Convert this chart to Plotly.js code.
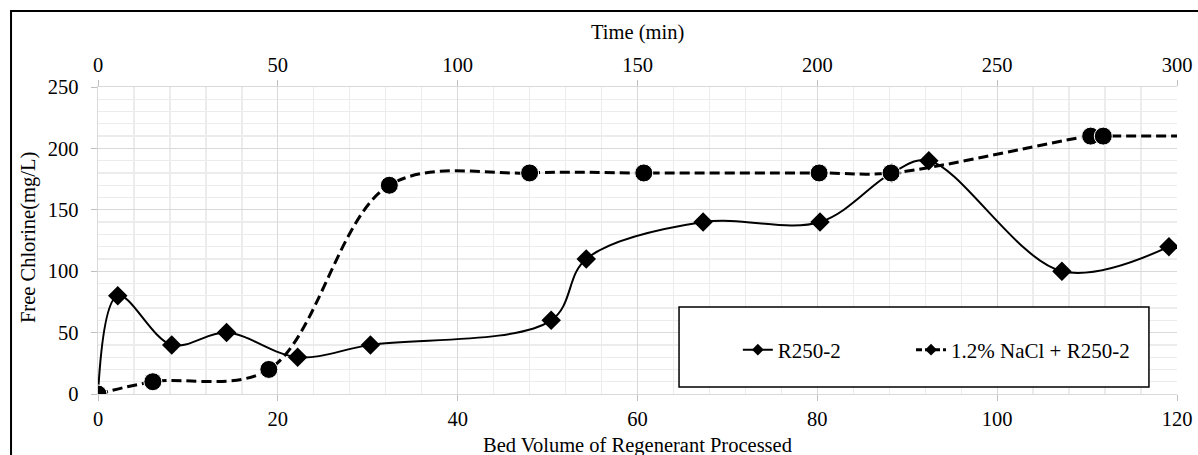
<!DOCTYPE html>
<html>
<head>
<meta charset="utf-8">
<script src="https://cdn.plot.ly/plotly-3.0.1.min.js"></script>
<style>
  html, body { margin: 0; padding: 0; background: #ffffff; }
  #chart { width: 1198px; height: 455px; }
</style>
</head>
<body>
<div id="chart"></div>
<script>
// Bed volume of regenerant processed (x) and free chlorine mg/L (y)
const r250BV = [0, 2.2, 8.2, 14.3, 22.2, 30.3, 50.4, 54.3, 67.3, 80.3, 88.3, 92.4, 107.2, 119.1];
const r250Cl = [0, 80, 40, 50, 30, 40, 60, 110, 140, 140, 180, 190, 100, 120];

const naclBV = [0, 6.1, 19.0, 32.4, 48.0, 60.7, 80.2, 88.2, 110.4, 111.8, 120];
const naclCl = [0, 10, 20, 170, 180, 180, 180, 180, 210, 210, 210];
const naclMarkerSize = [18, 18, 18, 18, 18, 18, 18, 18, 18, 18, 0];

const seriesNames = ['R250-2', '1.2% NaCl + R250-2'];
const timeRange = [0, 300];
const bvRange = [0, 120];
const clRange = [0, 250];

const FONT = 'Liberation Serif, Times New Roman, serif';
const GRID = '#d9d9d9';
const MINOR = '#ececec';

const traces = [
  {
    x: r250BV, y: r250Cl, type: 'scatter', mode: 'lines+markers',
    line: {color: '#000', width: 2, shape: 'spline', smoothing: 1},
    marker: {symbol: 'diamond', size: 15, color: '#000', opacity: 1},
    showlegend: false, name: seriesNames[0]
  },
  {
    x: naclBV, y: naclCl, type: 'scatter', mode: 'lines+markers',
    line: {color: '#000', width: 3, dash: '10px,5px', shape: 'spline', smoothing: 1},
    marker: {symbol: 'circle', size: naclMarkerSize, color: '#000', opacity: 1},
    showlegend: false, name: seriesNames[1]
  },
  {
    x: [null], y: [null], type: 'scatter', mode: 'lines+markers', name: seriesNames[0],
    legend: 'legend',
    line: {color: '#000', width: 2},
    marker: {symbol: 'diamond', size: 9, color: '#000', opacity: 1}
  },
  {
    x: [null], y: [null], type: 'scatter', mode: 'lines+markers', name: seriesNames[1],
    legend: 'legend2',
    line: {color: '#000', width: 3, dash: '6px,3px'},
    marker: {symbol: 'diamond', size: 9, color: '#000', opacity: 1}
  },
  {
    x: timeRange, y: [null, null], xaxis: 'x2', yaxis: 'y', type: 'scatter', mode: 'lines',
    showlegend: false, hoverinfo: 'skip'
  }
];

const legendBase = {
  orientation: 'h', xanchor: 'left', y: 0.1433, yanchor: 'middle',
  bgcolor: 'rgba(0,0,0,0)', borderwidth: 0,
  font: {family: FONT, size: 21, color: '#000'}
};

const layout = {
  width: 1198, height: 455,
  margin: {l: 98, r: 21, t: 87, b: 61},
  paper_bgcolor: '#ffffff', plot_bgcolor: '#ffffff',
  font: {family: FONT, size: 20.5, color: '#000'},
  showlegend: true,
  legend: Object.assign({}, legendBase, {x: 0.593}),
  legend2: Object.assign({}, legendBase, {x: 0.7535}),
  xaxis: {
    range: bvRange, dtick: 20, tick0: 0,
    showgrid: true, gridcolor: GRID, gridwidth: 1.3,
    minor: {dtick: 4, showgrid: true, gridcolor: MINOR, gridwidth: 1.3},
    zeroline: false, showline: true, linecolor: GRID, linewidth: 1.3,
    ticks: 'outside', ticklen: 6, tickcolor: '#bfbfbf',
    tickfont: {family: FONT, size: 20.5, color: '#000'}
  },
  xaxis2: {
    range: timeRange, dtick: 50, tick0: 0,
    overlaying: 'x', side: 'top', anchor: 'y',
    showgrid: false, zeroline: false, showline: true, linecolor: GRID, linewidth: 1.3,
    ticks: 'outside', ticklen: 6, tickcolor: '#bfbfbf',
    tickfont: {family: FONT, size: 20.5, color: '#000'}
  },
  yaxis: {
    range: clRange, dtick: 50, tick0: 0,
    showgrid: true, gridcolor: GRID, gridwidth: 1.3,
    minor: {dtick: 10, showgrid: true, gridcolor: MINOR, gridwidth: 1.3},
    zeroline: false, showline: true, linecolor: GRID, linewidth: 1.3,
    ticks: 'outside', ticklen: 6, tickcolor: '#bfbfbf', ticklabelstandoff: 8,
    tickfont: {family: FONT, size: 20.5, color: '#000'}
  },
  annotations: [
    {text: 'Time (min)', xref: 'paper', yref: 'paper', x: 0.5, y: 1.176,
     xanchor: 'center', yanchor: 'middle', showarrow: false,
     font: {family: FONT, size: 20.5, color: '#000'}},
    {text: 'Bed Volume of Regenerant Processed', xref: 'paper', yref: 'paper', x: 0.5, y: -0.169,
     xanchor: 'center', yanchor: 'middle', showarrow: false,
     font: {family: FONT, size: 20.5, color: '#000'}},
    {text: 'Free Chlorine(mg/L)', xref: 'paper', yref: 'paper', x: -0.0649, y: 0.511,
     xanchor: 'center', yanchor: 'middle', textangle: -90, showarrow: false,
     font: {family: FONT, size: 20.5, color: '#000'}}
  ],
  shapes: [
    {type: 'rect', xref: 'paper', yref: 'paper', x0: 0.5385, x1: 0.974, y0: 0.0228, y1: 0.2834,
     line: {color: '#000', width: 1.5}, fillcolor: '#ffffff', layer: 'above'},
    {type: 'rect', xref: 'paper', yref: 'paper', x0: -0.0806, x1: 1.03, y0: -0.25, y1: 1.2476,
     line: {color: '#000', width: 2}, fillcolor: 'rgba(0,0,0,0)', layer: 'above'}
  ]
};

Plotly.newPlot('chart', traces, layout, {displayModeBar: false, staticPlot: true});
</script>
</body>
</html>
